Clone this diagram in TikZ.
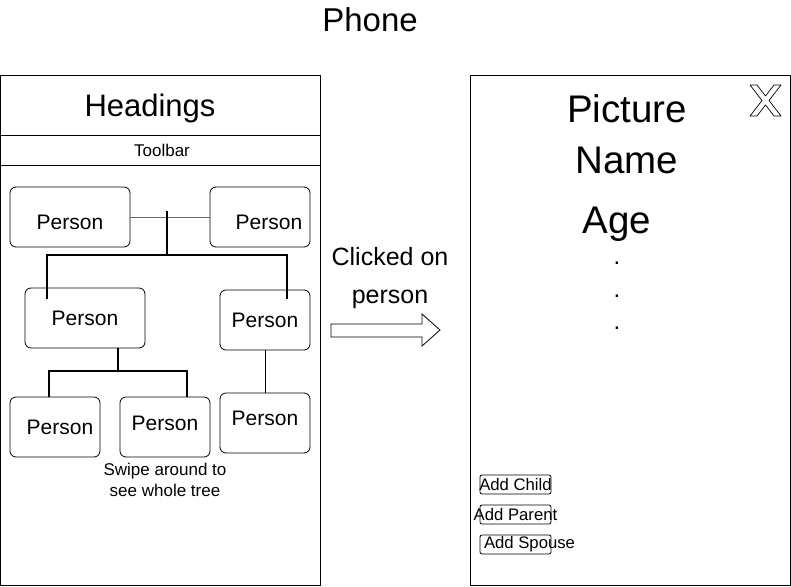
\documentclass[tikz,border=0pt]{standalone}
\usepackage{fontspec}
\setmainfont{Liberation Sans}
\usetikzlibrary{shapes,arrows}
\usetikzlibrary{positioning}
\usepackage{xcolor}

\tikzset{
  person/.style={draw, rounded corners=6pt, minimum width=#1, minimum height=60pt, inner sep=0pt, font=\fontsize{21}{24}\selectfont},
  person/.default=120pt,
  btn/.style={draw, rounded corners=2pt, minimum width=71pt, minimum height=19pt, inner sep=0pt},
  btntext/.style={font=\fontsize{16.7}{19}\selectfont, inner sep=0pt},
  branch/.style={line width=1.6pt},
  partner/.style={draw=black!60, line width=0.8pt}
}

\begin{document}
\begin{tikzpicture}[x=1pt, y=-1pt, line width=0.8pt]
  \useasboundingbox (0,0) rectangle (791,586);
  % Title
  \node (phone) at (370,20) {\fontsize{33}{36}\selectfont Phone};

  % Left screen
  \draw (0,75) rectangle (320,585);
  \draw (0,135) -- (320,135);
  \draw (0,165) -- (320,165);
  \node (head) at (150,108) {\fontsize{31}{34}\selectfont Headings};
  \node (tool) at (162,150) {\fontsize{17}{19}\selectfont Toolbar};

  % Persons
  \node[person] (p1) at (70,217) {\raisebox{-5pt}[\height][\depth]{Person}};
  \node[person=100pt] (p2) at (260,217) {\hspace*{18pt}\raisebox{-5pt}[\height][\depth]{Person}};
  \node[person] (p3) at (85,318) {Person};
  \node[person=90pt] (p4) at (265,320) {Person};
  \node[person=90pt] (p5) at (55,427) {\hspace*{10pt}Person};
  \node[person=90pt] (p6) at (165,427) {\raisebox{8pt}{Person}};
  \node[person=90pt] (p7) at (265,423) {\raisebox{10pt}{Person}};

  % Tree lines
  \coordinate (fam1) at (167,211);
  \coordinate (bar1) at (167,255);
  \coordinate (c3) at (47,299);
  \coordinate (c4) at (287,299);
  \coordinate (fam2) at (118,348);
  \coordinate (bar2) at (118,371);
  \coordinate (c5) at (49,397);
  \coordinate (c6) at (187,397);
  \path[partner] (p1.east) edge (p2.west);
  \draw[branch] (fam1) -- (bar1);
  \draw[branch] (c3) |- (bar1) -| (c4);
  \draw[branch] (fam2) -- (bar2);
  \draw[branch] (c5) |- (bar2) -| (c6);
  \draw (p4.south) -- (p7.north);

  \node[align=center, font=\fontsize{17}{21}\selectfont] (swipe) at (165,480) {Swipe around to\\see whole tree};

  % Arrow
  \node (click) at (390,278) [align=center, font=\fontsize{25}{38}\selectfont] {Clicked on\\person};
  \draw[line join=miter] (331,324) -- (422,324) -- (422,314) -- (440,330) -- (422,346) -- (422,337) -- (331,337) -- cycle;

  % Right screen
  \draw (470,75) rectangle (790,585);
  \node (pic) at (627,109) {\fontsize{38.5}{42}\selectfont Picture};
  \node (name) at (627,160) {\fontsize{38.5}{42}\selectfont Name};
  \node (age) at (617,224) {\fontsize{38.5}{42}\selectfont Age};
  \foreach \y in {260,293,325}
    \node[font=\fontsize{24}{26}\selectfont] at (617,\y+3) {.};
  % Close sign
  \draw[line width=0.7pt, line join=round] (750,85) -- (757,85) -- (765.5,96) -- (774,85) -- (781,85) -- (769,100.5) -- (781,116) -- (774,116) -- (765.5,105) -- (757,116) -- (750,116) -- (762,100.5) -- cycle;

  % Buttons
  \node[btn] (child) at (515.5,484.5) {};
  \node[btn] (parent) at (515.5,514.5) {};
  \node[btn] (spouse) at (515.5,544.5) {};
  \node[btntext] at (child) {Add Child};
  \node[btntext] at (parent) {Add Parent};
  \node[btntext, anchor=west] at ([xshift=4pt]spouse.west) {Add Spouse};
\end{tikzpicture}
\end{document}
